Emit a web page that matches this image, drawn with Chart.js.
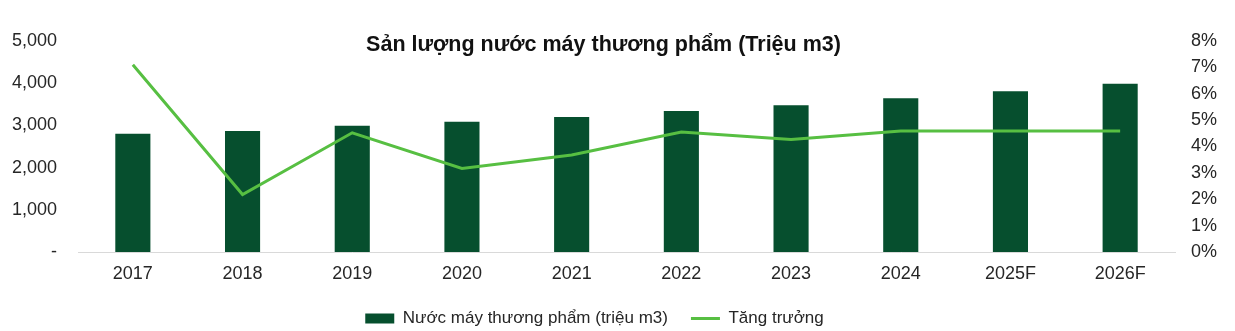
<!DOCTYPE html>
<html>
<head>
<meta charset="utf-8">
<script src="https://cdn.jsdelivr.net/npm/chart.js@4"></script>
<style>
  html, body { margin: 0; padding: 0; background: #fff; overflow: hidden; }
  #wrap { position: relative; width: 1235px; height: 331px; overflow: hidden; }
  #title {
    position: absolute; left: 0; top: 32px; width: 1207px; text-align: center;
    font: bold 21.5px "Liberation Sans", Arial, sans-serif; color: #111;
  }
</style>
</head>
<body>
<div id="wrap">
  <canvas id="chart" width="1235" height="337"></canvas>
  <div id="title">Sản lượng nước máy thương phẩm (Triệu m3)</div>
</div>
<script>
// Du lieu doc tu bieu do
const years = ["2017", "2018", "2019", "2020", "2021", "2022", "2023", "2024", "2025F", "2026F"];
const sanLuong = [2800, 2866, 2990, 3084, 3200, 3340, 3480, 3645, 3808, 3988];
const tangTruong = [7.1, 2.18, 4.52, 3.17, 3.68, 4.55, 4.27, 4.59, 4.59, 4.59];
const leftTicks = [0, 1000, 2000, 3000, 4000, 5000];
const rightTicks = [0, 1, 2, 3, 4, 5, 6, 7, 8];

const tickFont = { family: '"Liberation Sans", Arial, sans-serif', size: 18 };
const legendFont = { family: '"Liberation Sans", Arial, sans-serif', size: 17 };

// Dich chu thich sang trai mot chut cho giong hinh goc
const legendShift = {
    id: "legendShift",
    afterLayout(chart) {
        if (chart.legend) {
            chart.legend.left -= 23;
            chart.legend.right -= 23;
        }
    }
};

new Chart(document.getElementById("chart"), {
    data: {
        labels: years,
        datasets: [{
            type: "bar",
            label: "Nước máy thương phẩm (triệu m3)",
            data: sanLuong,
            yAxisID: "y",
            backgroundColor: "#064f2e",
            borderWidth: 0,
            barPercentage: 0.64,
            categoryPercentage: 0.5,
            pointStyle: "rect",
            order: 2
        }, {
            type: "line",
            label: "Tăng trưởng",
            data: tangTruong,
            yAxisID: "y1",
            borderColor: "#57bf42",
            backgroundColor: "#57bf42",
            borderWidth: 3,
            pointRadius: 0,
            pointBorderWidth: 3,
            pointStyle: "line",
            tension: 0,
            order: 1
        }]
    },
    options: {
        responsive: false,
        animation: false,
        layout: { padding: { top: 41, left: 0, right: 0, bottom: 0 } },
        plugins: {
            legend: {
                position: "bottom",
                labels: {
                    usePointStyle: true,
                    pointStyleWidth: 29,
                    boxHeight: 10,
                    padding: 23,
                    color: "#262626",
                    font: legendFont,
                    sort: (a, b) => a.datasetIndex - b.datasetIndex
                }
            },
            tooltip: { enabled: false }
        },
        scales: {
            x: {
                grid: { display: false },
                border: { color: "#d9d9d9", width: 1 },
                ticks: { color: "#262626", font: tickFont, padding: 3 },
                afterFit: function(scale) { scale.height = 35; }
            },
            y: {
                position: "left",
                min: 0,
                max: 5000,
                grid: { display: false },
                border: { display: false },
                afterBuildTicks: function(scale) { scale.ticks = leftTicks.map(v => ({ value: v })); },
                ticks: {
                    color: "#262626",
                    font: tickFont,
                    padding: 13,
                    callback: v => v === 0 ? "-" : v.toLocaleString("en-US")
                },
                afterFit: function(scale) { scale.width = 78; }
            },
            y1: {
                position: "right",
                min: 0,
                max: 8,
                grid: { display: false },
                border: { display: false },
                afterBuildTicks: function(scale) { scale.ticks = rightTicks.map(v => ({ value: v })); },
                ticks: {
                    color: "#262626",
                    font: tickFont,
                    padding: 8,
                    callback: v => v + "%"
                },
                afterFit: function(scale) { scale.width = 60; }
            }
        }
    },
    plugins: [legendShift]
});
</script>
</body>
</html>
